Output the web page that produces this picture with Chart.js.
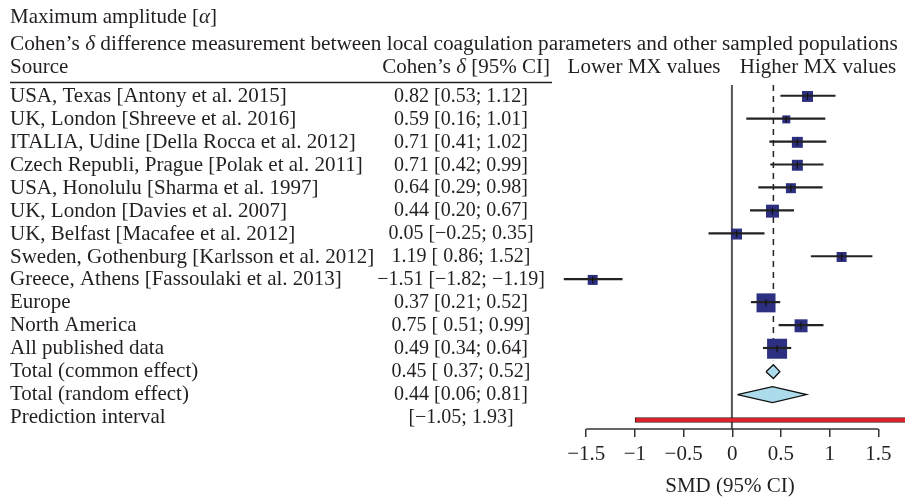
<!DOCTYPE html>
<html>
<head>
<meta charset="utf-8">
<script src="https://cdn.jsdelivr.net/npm/chart.js@4/dist/chart.umd.min.js"></script>
<style>
  html, body { margin: 0; padding: 0; background: #fff; overflow: hidden; }
  #wrap { width: 905px; height: 499px; position: relative; }
  canvas { display: block; }
</style>
</head>
<body>
<div id="wrap"><canvas id="forest"></canvas></div>
<script>
// rows of the forest plot, top to bottom
const sources = [
  "USA, Texas [Antony et al. 2015]",
  "UK, London [Shreeve et al. 2016]",
  "ITALIA, Udine [Della Rocca et al. 2012]",
  "Czech Republi, Prague [Polak et al. 2011]",
  "USA, Honolulu [Sharma et al. 1997]",
  "UK, London [Davies et al. 2007]",
  "UK, Belfast [Macafee et al. 2012]",
  "Sweden, Gothenburg [Karlsson et al. 2012]",
  "Greece, Athens [Fassoulaki et al. 2013]",
  "Europe",
  "North America",
  "All published data",
  "Total (common effect)",
  "Total (random effect)",
  "Prediction interval"
];
const ciLabels = [
  "0.82 [0.53; 1.12]", "0.59 [0.16; 1.01]", "0.71 [0.41; 1.02]", "0.71 [0.42; 0.99]",
  "0.64 [0.29; 0.98]", "0.44 [0.20; 0.67]", "0.05 [\u22120.25; 0.35]", "1.19 [ 0.86; 1.52]",
  "\u22121.51 [\u22121.82; \u22121.19]", "0.37 [0.21; 0.52]", "0.75 [ 0.51; 0.99]", "0.49 [0.34; 0.64]",
  "0.45 [ 0.37; 0.52]", "0.44 [0.06; 0.81]", "[\u22121.05; 1.93]"
];
const estimates = [0.82, 0.59, 0.71, 0.71, 0.64, 0.44, 0.05, 1.19, -1.51, 0.37, 0.75, 0.49, 0.45, 0.44, null];
const lower     = [0.53, 0.16, 0.41, 0.42, 0.29, 0.20, -0.25, 0.86, -1.82, 0.21, 0.51, 0.34, 0.37, 0.06, -1.05];
const upper     = [1.12, 1.01, 1.02, 0.99, 0.98, 0.67, 0.35, 1.52, -1.19, 0.52, 0.99, 0.64, 0.52, 0.81, 1.93];
// relative weights of the studies and subgroups (square area)
const weights   = [30, 16, 30, 30, 25, 42, 30, 25, 25, 90, 42, 100];
const tickValues = [-1.5, -1, -0.5, 0, 0.5, 1, 1.5];

const nSquares = weights.length;      // rows 0..11
const rowCommon = 12, rowRandom = 13, rowPred = 14;

const FONT = '"Liberation Serif", "Times New Roman", serif';
const FS = 21;
const INK = '#231f20';
const minus = s => String(s).replace('-', '\u2212');

const squares = [], whiskers = [], centres = [];
for (let i = 0; i < nSquares; i++) {
  squares.push({x: estimates[i], y: i});
  whiskers.push({x: [lower[i], upper[i]], y: i});
  centres.push({x: estimates[i], y: i});
}
const sqRadius = weights.map(w => 2 * Math.sqrt(w) / Math.SQRT2);

function diamond(row, half) {
  return [
    {x: lower[row], y: row},
    {x: estimates[row], y: row - half},
    {x: upper[row], y: row},
    {x: estimates[row], y: row + half},
    {x: lower[row], y: row}
  ];
}

function richText(ctx, parts, x, y, align, size) {
  size = size || FS;
  let total = 0;
  parts.forEach(p => { ctx.font = (p[1] ? 'italic ' : '') + size + 'px ' + FONT; total += ctx.measureText(p[0]).width; });
  let cx = align === 'center' ? x - total / 2 : (align === 'right' ? x - total : x);
  ctx.textAlign = 'left';
  parts.forEach(p => {
    ctx.font = (p[1] ? 'italic ' : '') + size + 'px ' + FONT;
    ctx.fillText(p[0], cx, y);
    cx += ctx.measureText(p[0]).width;
  });
}

const tablePlugin = {
  id: 'table',
  afterDraw(chart) {
    const ctx = chart.ctx;
    const yS = chart.scales.y;
    const ax = chart.scales.xAxis;
    ctx.save();
    ctx.fillStyle = INK;
    ctx.textBaseline = 'middle';
    richText(ctx, [["Maximum amplitude [", false], ["\u03b1", true], ["]", false]], 10, 17, 'left');
    richText(ctx, [["Cohen\u2019s ", false], ["\u03b4", true],
      [" difference measurement between local coagulation parameters and other sampled populations", false]], 10, 44, 'left', 21.3);
    richText(ctx, [["Source", false]], 10, 67, 'left');
    richText(ctx, [["Cohen\u2019s ", false], ["\u03b4", true], [" [95% CI]", false]], 550, 67, 'right');
    richText(ctx, [["Lower MX values", false]], 644, 67, 'center');
    richText(ctx, [["Higher MX values", false]], 818, 67, 'center');

    ctx.strokeStyle = INK;
    ctx.lineWidth = 1.5;
    ctx.beginPath();
    ctx.moveTo(10, 82.5);
    ctx.lineTo(552, 82.5);
    ctx.stroke();

    sources.forEach((s, i) => {
      const py = yS.getPixelForValue(i);
      ctx.font = FS + 'px ' + FONT;
      ctx.textAlign = 'left';
      ctx.fillText(s, 10, py);
      ctx.font = '20px ' + FONT;
      ctx.textAlign = 'center';
      ctx.fillText(ciLabels[i], 461, py);
    });

    // axis line only between the first and last tick
    const yb = chart.chartArea.bottom;
    ctx.strokeStyle = '#333';
    ctx.lineWidth = 1.5;
    ctx.beginPath();
    ctx.moveTo(ax.getPixelForValue(tickValues[0]), yb);
    ctx.lineTo(ax.getPixelForValue(tickValues[tickValues.length - 1]), yb);
    ctx.stroke();
    ctx.restore();
  }
};

new Chart(document.getElementById('forest'), {
  type: 'bar',
  data: {
    datasets: [
      {
        type: 'line', label: 'no effect', order: 9,
        data: [{x: 0, y: -0.5}, {x: 0, y: 14.5}],
        borderColor: '#555', borderWidth: 2, pointRadius: 0, xAxisID: 'x', yAxisID: 'y'
      },
      {
        type: 'line', label: 'common effect', order: 8,
        data: [{x: estimates[rowCommon], y: -0.5}, {x: estimates[rowCommon], y: 11.5}],
        borderColor: '#222', borderWidth: 1.5, borderDash: [6, 5], pointRadius: 0, xAxisID: 'x', yAxisID: 'y'
      },
      {
        type: 'line', label: 'studies', order: 5, showLine: false,
        data: squares, pointStyle: 'rect', pointRadius: sqRadius,
        backgroundColor: '#2d2f80', borderWidth: 0, xAxisID: 'x', yAxisID: 'y'
      },
      {
        type: 'bar', label: '95% CI', order: 3, indexAxis: 'y',
        data: whiskers, barThickness: 1.5, backgroundColor: '#222',
        xAxisID: 'x', yAxisID: 'y'
      },
      {
        type: 'line', label: 'estimate', order: 2, showLine: false,
        data: centres, pointStyle: 'line', rotation: 90, pointRadius: 3.5,
        borderColor: '#111', borderWidth: 1.2, xAxisID: 'x', yAxisID: 'y'
      },
      {
        type: 'line', label: 'Total (common effect)', order: 4,
        data: diamond(rowCommon, 0.3), fill: 'shape', tension: 0,
        backgroundColor: '#acdcec', borderColor: '#111', borderWidth: 1.3, pointRadius: 0,
        xAxisID: 'x', yAxisID: 'y'
      },
      {
        type: 'line', label: 'Total (random effect)', order: 4,
        data: diamond(rowRandom, 0.35), fill: 'shape', tension: 0,
        backgroundColor: '#acdcec', borderColor: '#111', borderWidth: 1.3, pointRadius: 0,
        xAxisID: 'x', yAxisID: 'y'
      },
      {
        type: 'bar', label: 'Prediction interval', order: 4, indexAxis: 'y',
        data: [{x: [lower[rowPred], upper[rowPred]], y: rowPred}],
        barThickness: 5, backgroundColor: '#e41e26', borderColor: '#3b1414', borderWidth: 1,
        borderSkipped: false, xAxisID: 'x', yAxisID: 'y'
      }
    ]
  },
  options: {
    responsive: true,
    maintainAspectRatio: false,
    animation: false,
    events: [],
    layout: { autoPadding: false, padding: { left: 555, right: 0, top: 85, bottom: 0 } },
    plugins: { legend: { display: false }, tooltip: { enabled: false } },
    scales: {
      x: { type: 'linear', display: false, offset: false, grid: { offset: false }, min: -1.9187, max: 1.8774 },
      xAxis: {
        type: 'linear', position: 'bottom', offset: false, min: -1.8203, max: 1.7731,
        afterBuildTicks: s => { s.ticks = tickValues.map(v => ({value: v})); },
        afterFit: s => { s.height = 70; s.paddingLeft = 0; s.paddingRight = 0; },
        border: { display: false },
        grid: { offset: false, drawOnChartArea: false, drawTicks: true, tickLength: 8, color: '#333', lineWidth: 1.5 },
        ticks: {
          padding: 5, color: INK, maxRotation: 0, autoSkip: false,
          font: { family: FONT, size: FS },
          callback: v => minus(v)
        },
        title: {
          display: true, text: 'SMD (95% CI)', color: INK,
          font: { family: FONT, size: FS }, padding: { top: 0, bottom: 0 }
        }
      },
      y: { type: 'linear', display: false, offset: false, grid: { offset: false }, reverse: true, min: -0.5, max: 14.5 }
    }
  },
  plugins: [tablePlugin]
});
</script>
</body>
</html>
